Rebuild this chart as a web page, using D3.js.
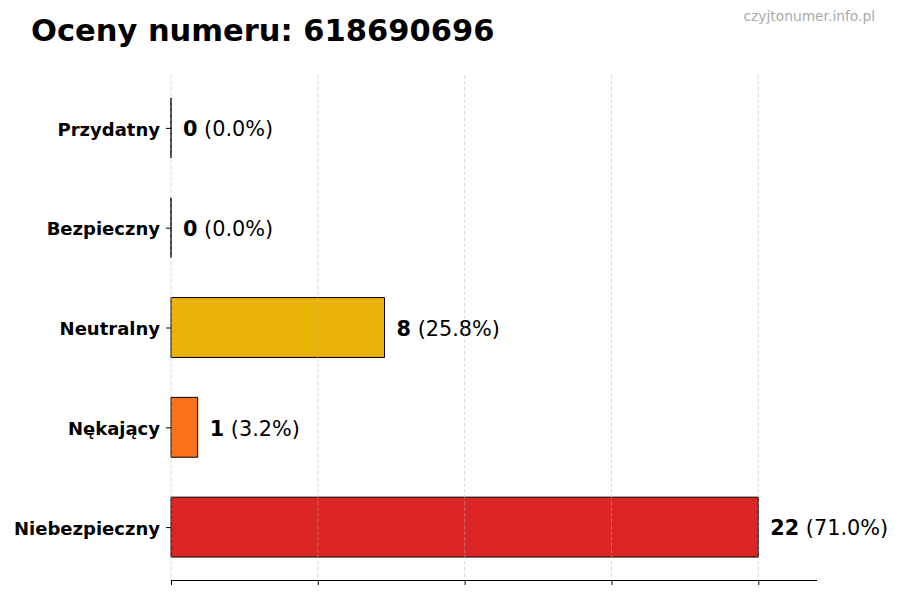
<!DOCTYPE html>
<html>
<head>
<meta charset="utf-8">
<script src="https://cdn.jsdelivr.net/npm/d3@7"></script>
<style>
  html, body { margin: 0; padding: 0; background: #fff; }
  svg { display: block; font-family: "DejaVu Sans", sans-serif; }
</style>
</head>
<body>
<svg id="chart" width="900" height="600"></svg>
<script>
const categories = ["Przydatny", "Bezpieczny", "Neutralny", "Nękający", "Niebezpieczny"];
const counts = [0, 0, 8, 1, 22];
const percents = [0.0, 0.0, 25.8, 3.2, 71.0];
const barColors = ["#22c55e", "#3b82f6", "#eab308", "#f97316", "#dc2626"];
const xTicks = [0, 5.5, 11, 16.5, 22];
const titleText = "Oceny numeru: 618690696";
const watermark = "czyjtonumer.info.pl";

const svg = d3.select("#chart");
const margin = { left: 171, right: 83, top: 75, bottom: 20 };
const W = 900, H = 600;
const plotBottom = H - margin.bottom;
const plotRight = W - margin.right;

const maxVal = d3.max(counts);
const x = d3.scaleLinear().domain([0, maxVal * 1.1]).range([margin.left, plotRight]);
const y = d3.scaleLinear().domain([-0.53, categories.length - 1 + 0.53]).range([margin.top, plotBottom]);
const barH = y(0.6) - y(0);

// Title
svg.append("text")
  .attr("x", 31).attr("y", 41)
  .attr("font-size", 30.5).attr("font-weight", "bold").attr("fill", "#000")
  .text(titleText);

// Watermark
svg.append("text")
  .attr("x", 875).attr("y", 21)
  .attr("text-anchor", "end")
  .attr("font-size", 13.8).attr("fill", "#aaaaaa")
  .text(watermark);

// Bars (paths so zero-width bars still show their edge)
const g = svg.append("g");
g.selectAll("path.bar").data(categories).join("path")
  .attr("class", "bar")
  .attr("d", (d, i) => {
    const x0 = x(0), w = x(counts[i]) - x(0), y0 = y(i) - barH / 2;
    return `M${x0},${y0}h${w}v${barH}h${-w}Z`;
  })
  .attr("fill", (d, i) => barColors[i])
  .attr("stroke", "#000")
  .attr("stroke-width", 1);

// Value labels
const lbl = g.selectAll("text.val").data(categories).join("text")
  .attr("class", "val")
  .attr("x", (d, i) => x(counts[i]) + 12)
  .attr("y", (d, i) => y(i) + 1)
  .attr("dy", "0.35em")
  .attr("font-size", 20.8)
  .attr("fill", "#000");
lbl.append("tspan").attr("font-weight", "bold").text((d, i) => counts[i]);
lbl.append("tspan").text((d, i) => " (" + percents[i].toFixed(1) + "%)");

// Grid lines (drawn on top, faint)
svg.append("g").selectAll("line").data(xTicks).join("line")
  .attr("x1", d => x(d)).attr("x2", d => x(d))
  .attr("y1", margin.top).attr("y2", plotBottom)
  .attr("stroke", "#b0b0b0")
  .attr("stroke-opacity", 0.6)
  .attr("stroke-width", 0.8)
  .attr("stroke-dasharray", "4,2");

// Bottom axis
const xAxis = d3.axisBottom(x).tickValues(xTicks).tickSize(5).tickFormat("");
const xg = svg.append("g").attr("transform", `translate(0,${plotBottom})`).call(xAxis);
xg.select(".domain").attr("d", `M${margin.left},0.5H${plotRight}`).attr("stroke", "#000").attr("stroke-width", 1);
xg.selectAll(".tick line").attr("stroke", "#000").attr("stroke-width", 1);

// Left ticks and labels (no spine)
const yAxis = d3.axisLeft(y).tickValues(d3.range(categories.length)).tickSize(5).tickPadding(6)
  .tickFormat(i => categories[i]);
const yg = svg.append("g").attr("transform", `translate(${margin.left},0)`).call(yAxis);
yg.select(".domain").remove();
yg.selectAll(".tick line").attr("stroke", "#000").attr("stroke-width", 1);
yg.selectAll(".tick text")
  .attr("font-family", "DejaVu Sans, sans-serif")
  .attr("font-size", 18).attr("font-weight", "bold").attr("fill", "#000")
  .attr("y", 1.5);
</script>
</body>
</html>
